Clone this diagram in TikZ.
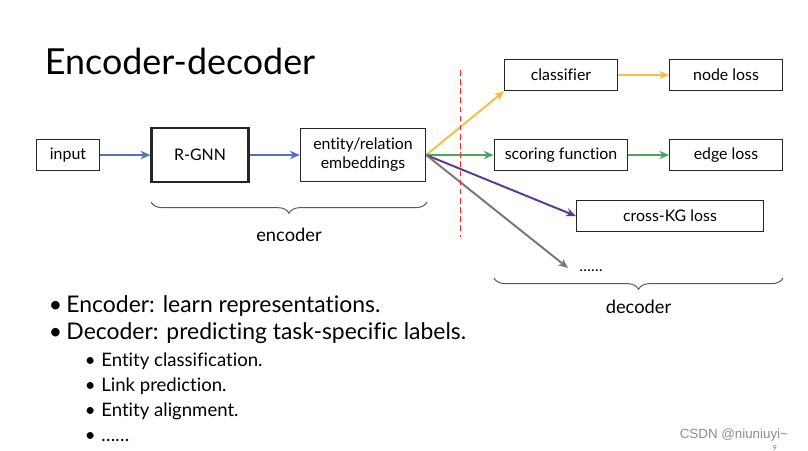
\documentclass[tikz,border=0pt]{standalone}
\usepackage{fontspec}
\setmainfont{Lato}[Ligatures=NoCommon]
\newfontfamily\wmfont{Liberation Sans}
\usetikzlibrary{arrows.meta,positioning,decorations.pathreplacing}
\definecolor{arrblue}{RGB}{84,112,196}
\definecolor{arryellow}{RGB}{245,190,70}
\definecolor{arrgreen}{RGB}{76,165,92}
\definecolor{arrpurple}{RGB}{92,58,146}
\definecolor{arrgray}{RGB}{120,120,120}
\tikzset{
  blockbox/.style={draw=black!85, line width=0.9pt, minimum height=22pt, inner sep=2pt, font=\fontsize{11.3}{13.5}\selectfont},
  flow/.style={-{Stealth[length=7pt,width=6pt]}, line width=1.4pt},
  brace/.style={decorate, decoration={brace, mirror, amplitude=8pt}, draw=black!65, line width=0.7pt},
  bigitem/.style={anchor=base west, font=\fontsize{16.3}{19}\selectfont},
  subitem/.style={anchor=base west, font=\fontsize{13.2}{15}\selectfont},
}
\begin{document}
\begin{tikzpicture}[x=0.025cm, y=-0.025cm]
  \useasboundingbox (0,0) rectangle (808,450);
  \node[anchor=base west, font=\fontsize{25.5}{30}\selectfont] (title) at (40,74) {Encoder-decoder};
  % encoder chain
  \node[blockbox, minimum width=45pt] (input) at (68,155) {input};
  \node[blockbox, line width=1.6pt, minimum width=69pt, minimum height=38pt] (rgnn) at (200,155) {R-GNN};
  \node[blockbox, minimum width=89pt, minimum height=38pt, align=center] (emb) at (363,155) {entity/relation\\embeddings};
  \draw[flow, arrblue] (input) -- (rgnn);
  \draw[flow, arrblue] (rgnn) -- (emb);
  % decoder heads
  \node[blockbox, minimum width=80pt] (clf) at (561,75) {classifier};
  \node[blockbox, minimum width=80pt] (nodeloss) at (726,75) {node loss};
  \node[blockbox, minimum width=95pt] (score) at (561,155) {scoring function};
  \node[blockbox, minimum width=80pt] (edgeloss) at (726,155) {edge loss};
  \node[blockbox, minimum width=133pt] (kgloss) at (670,216) {cross-KG loss};
  \node[font=\fontsize{11}{13}\selectfont] (more) at (591,271) {……};
  \coordinate (fork) at (emb.east);
  \coordinate (moreend) at (568,268);
  \draw[flow, arryellow] (fork) -- (clf.south west);
  \draw[flow, arryellow] (clf) -- (nodeloss);
  \draw[flow, arrgreen] (fork) -- (score);
  \draw[flow, arrgreen] (score) -- (edgeloss);
  \draw[flow, arrpurple] (fork) -- (kgloss.west);
  \draw[flow, arrgray] (fork) -- (moreend);
  % split line
  \coordinate (cuttop) at (460,70);
  \coordinate (cutbot) at (460,237);
  \draw[red!85, dash pattern=on 4pt off 2.5pt, line width=0.7pt] (cuttop) -- (cutbot);
  % braces
  \draw[brace] (151,202) -- node[below=15pt, font=\fontsize{13}{15}\selectfont, text=black] (enclab) {encoder} (427,202);
  \draw[brace] (494,278) -- node[below=12pt, font=\fontsize{13}{15}\selectfont, text=black] (declab) {decoder} (783,278);
  % bullet list
  \node[bigitem] (b1) at (44,312) {•\hspace{3pt}Encoder: learn representations.};
  \node[bigitem] (b2) at (44,339) {•\hspace{3pt}Decoder: predicting task-specific labels.};
  \node[subitem] (s1) at (80,366) {•\hspace{4pt}Entity classification.};
  \node[subitem] (s2) at (80,391) {•\hspace{4pt}Link prediction.};
  \node[subitem] (s3) at (80,416) {•\hspace{4pt}Entity alignment.};
  \node[subitem] (s4) at (80,441) {•\hspace{4pt}……};
  % watermark
  \node[anchor=base east, text=black!45, font=\wmfont\fontsize{9.5}{11}\selectfont] (mark) at (793,438) {CSDN @niuniuyi\textasciitilde};
  \node[text=black!55, font=\fontsize{5}{6}\selectfont] (page) at (775,448) {9};
\end{tikzpicture}
\end{document}
